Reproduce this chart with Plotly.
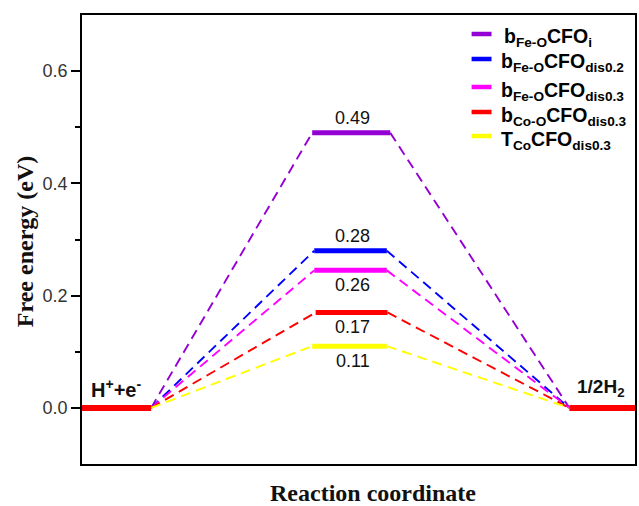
import plotly.graph_objects as go

# ---- data ----
series_names = [
    "b<sub>Fe-O</sub>CFO<sub>i</sub>",
    "b<sub>Fe-O</sub>CFO<sub>dis0.2</sub>",
    "b<sub>Fe-O</sub>CFO<sub>dis0.3</sub>",
    "b<sub>Co-O</sub>CFO<sub>dis0.3</sub>",
    "T<sub>Co</sub>CFO<sub>dis0.3</sub>",
]
energies = [0.49, 0.28, 0.245, 0.17, 0.11]          # plotted level of intermediate state
energy_labels = ["0.49", "0.28", "0.26", "0.17", "0.11"]
initial_energy = 0.0
final_energy = 0.0
state_labels = ["H<sup>+</sup>+e<sup>-</sup>", "1/2H<sub>2</sub>"]
y_ticks = [0.0, 0.2, 0.4, 0.6]

# ---- style / layout constants ----
colors = ["#9400D3", "#0000FF", "#FF00FF", "#FF0000", "#FFFF00"]
mid_spans = [(3.33, 4.46), (3.36, 4.41), (3.36, 4.41), (3.38, 4.42), (3.33, 4.41)]
label_above = [True, True, False, False, False]
left_span = (0.0, 1.0)
right_span = (7.05, 8.0)

W, H = 639, 506
ML, MR, MT, MB = 82, 2, 15, 42
PW, PH = W - ML - MR, H - MT - MB

def px(x):
    return (x - ML) / PW

def py(y):
    return (H - MB - y) / PH

fig = go.Figure()

# dashed connectors and intermediate levels
for i, e in enumerate(energies):
    x0, x1 = mid_spans[i]
    fig.add_trace(go.Scatter(
        x=[left_span[1], x0, None, x1, right_span[0]],
        y=[initial_energy, e, None, e, final_energy],
        mode="lines", line=dict(color=colors[i], width=1.9, dash="10px,6px"),
        showlegend=False, hoverinfo="skip"))
    fig.add_trace(go.Scatter(
        x=[x0, x1], y=[e, e], mode="lines",
        line=dict(color=colors[i], width=5), showlegend=False))

# initial and final states
fig.add_trace(go.Scatter(x=list(left_span), y=[initial_energy] * 2, mode="lines",
                         line=dict(color="#FF0000", width=6), showlegend=False))
fig.add_trace(go.Scatter(x=list(right_span), y=[final_energy] * 2, mode="lines",
                         line=dict(color="#FF0000", width=6), showlegend=False))

annotations = []
for i, e in enumerate(energies):
    annotations.append(dict(
        x=3.92, y=e, xref="x", yref="y", text=energy_labels[i], showarrow=False,
        yshift=15 if label_above[i] else -15, yanchor="middle",
        font=dict(family="Liberation Sans", size=18, color="#111")))

annotations.append(dict(x=0.49, y=initial_energy, xref="x", yref="y", text="<b>" + state_labels[0] + "</b>",
                        showarrow=False, yanchor="bottom", yshift=5,
                        font=dict(family="Liberation Sans", size=20, color="#111")))
annotations.append(dict(x=7.51, y=final_energy, xref="x", yref="y", text="<b>" + state_labels[1] + "</b>",
                        showarrow=False, yanchor="bottom", yshift=6,
                        font=dict(family="Liberation Sans", size=19, color="#111")))

# manual legend
legend_y = [35, 60, 88, 113, 137]
shapes = []
for i, name in enumerate(series_names):
    shapes.append(dict(type="line", xref="paper", yref="paper",
                       x0=px(473), x1=px(493), y0=py(legend_y[i] - 1), y1=py(legend_y[i] - 1),
                       line=dict(color=colors[i], width=4.5)))
    annotations.append(dict(x=px(504 if i == 0 else 501), y=py(legend_y[i] + 3), xref="paper", yref="paper",
                            text="<b>" + name + "</b>", showarrow=False, xanchor="left", yanchor="middle",
                            font=dict(family="Liberation Sans", size=19.5, color="#000")))

# axis titles
annotations.append(dict(x=px(25), y=py(242), xref="paper", yref="paper", text="<b>Free energy (eV)</b>",
                        showarrow=False, textangle=-90, xanchor="center", yanchor="middle",
                        font=dict(family="Liberation Serif", size=24, color="#111")))
annotations.append(dict(x=px(374), y=py(493), xref="paper", yref="paper", text="<b>Reaction coordinate</b>",
                        showarrow=False, xanchor="center", yanchor="middle",
                        font=dict(family="Liberation Serif", size=24, color="#111")))

fig.update_layout(
    width=W, height=H, margin=dict(l=ML, r=MR, t=MT, b=MB),
    plot_bgcolor="white", paper_bgcolor="white",
    showlegend=False, annotations=annotations, shapes=shapes,
    xaxis=dict(range=[0, 8], showgrid=False, zeroline=False, showticklabels=False,
               ticks="", showline=True, linecolor="black", linewidth=1.8, mirror=True),
    yaxis=dict(range=[-0.1, 0.7], showgrid=False, zeroline=False,
               tickvals=y_ticks, ticktext=[f"{v:.1f}" for v in y_ticks],
               ticks="outside", ticklen=9, tickwidth=1.5, tickcolor="black",
               minor=dict(tickvals=[0.1, 0.3, 0.5], ticks="outside", ticklen=5, tickwidth=1.5, tickcolor="black"),
               showline=True, linecolor="black", linewidth=1.8, mirror=True,
               tickfont=dict(family="Liberation Sans", size=18, color="#333")),
)

fig.write_html("out.html", config={"displayModeBar": False},
               post_script="document.body.style.margin='0';document.body.style.overflow='hidden';")
